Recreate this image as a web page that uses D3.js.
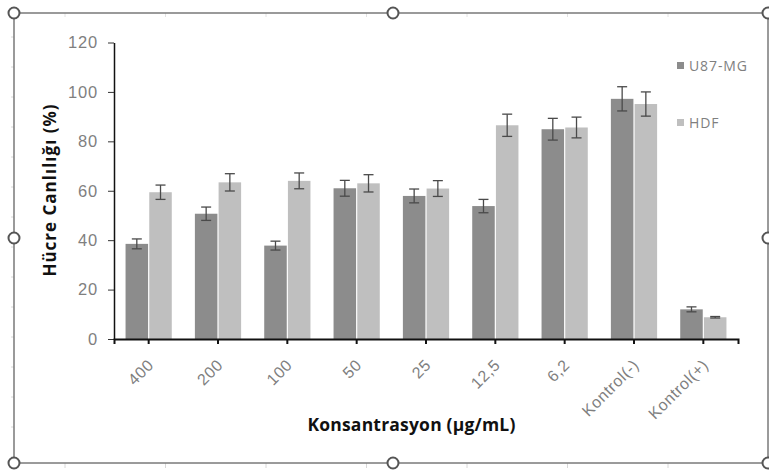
<!DOCTYPE html>
<html>
<head>
<meta charset="utf-8">
<script src="https://cdn.jsdelivr.net/npm/d3@7/dist/d3.min.js"></script>
<style>
  html, body { margin: 0; padding: 0; background: #fff; }
  svg { display: block; font-family: "Open Sans", Lato, sans-serif; }
</style>
</head>
<body>
<div id="chart"></div>
<script>
// data
const categories = ["400", "200", "100", "50", "25", "12,5", "6,2", "Kontrol(-)", "Kontrol(+)"];
const seriesNames = ["U87-MG", "HDF"];
const u87Values = [38.5, 50.7, 37.8, 61.0, 57.9, 53.8, 84.9, 97.2, 12.0];
const u87Errors = [2.0, 2.7, 1.8, 3.2, 2.8, 2.7, 4.4, 4.9, 1.0];
const hdfValues = [59.4, 63.4, 64.0, 63.0, 60.9, 86.5, 85.6, 95.1, 8.8];
const hdfErrors = [2.9, 3.5, 3.2, 3.5, 3.2, 4.5, 4.2, 4.9, 0.3];
const yTicks = [0, 20, 40, 60, 80, 100, 120];

const width = 769, height = 473;
const colors = { "U87-MG": "#8c8c8c", "HDF": "#bfbfbf" };

const svg = d3.select("#chart").append("svg")
  .attr("width", width)
  .attr("height", height);

// --- selected chart frame (Excel style handles) ---
const frame = { left: 14, top: 13, right: 768, bottom: 463 };
const frameG = svg.append("g");

// faint ruler ticks on the frame
const rulerX = d3.range(65, 700, 100.5);
const rulerY = d3.range(37, 460, 30);
frameG.selectAll(".rx-top").data(rulerX).join("line")
  .attr("x1", d => d).attr("x2", d => d)
  .attr("y1", frame.top).attr("y2", frame.top + 4)
  .attr("stroke", "#e2e2e2");
frameG.selectAll(".rx-bot").data(rulerX).join("line")
  .attr("x1", d => d).attr("x2", d => d)
  .attr("y1", frame.bottom).attr("y2", frame.bottom + 5)
  .attr("stroke", "#d8d8d8");
frameG.selectAll(".ry").data(rulerY).join("line")
  .attr("x1", frame.left - 3).attr("x2", frame.left)
  .attr("y1", d => d).attr("y2", d => d)
  .attr("stroke", "#d8d8d8");

frameG.append("rect")
  .attr("x", frame.left).attr("y", frame.top)
  .attr("width", frame.right - frame.left)
  .attr("height", frame.bottom - frame.top)
  .attr("fill", "none")
  .attr("stroke", "#7a7a7a")
  .attr("stroke-width", 1.5);

const midX = 393, midY = 238;
const handles = [
  [frame.left, frame.top], [midX, frame.top], [frame.right, frame.top],
  [frame.left, midY], [frame.right, midY],
  [frame.left, frame.bottom], [midX, frame.bottom], [frame.right, frame.bottom]
];
frameG.selectAll("circle").data(handles).join("circle")
  .attr("cx", d => d[0]).attr("cy", d => d[1])
  .attr("r", 5.5)
  .attr("fill", "#fff")
  .attr("stroke", "#555")
  .attr("stroke-width", 2);

// --- chart ---
const plot = { left: 114, right: 738, top: 42.5, bottom: 339 };

const x = d3.scaleBand()
  .domain(categories)
  .range([plot.left, plot.right])
  .paddingInner(1 / 3)
  .paddingOuter(1 / 6);

const xs = d3.scaleBand()
  .domain(seriesNames)
  .range([0, x.bandwidth()])
  .paddingInner(0.05);

const y = d3.scaleLinear()
  .domain([0, 120])
  .range([plot.bottom, plot.top]);

const rows = categories.map((c, i) => ({
  cat: c,
  bars: [
    { key: "U87-MG", value: u87Values[i], err: u87Errors[i] },
    { key: "HDF", value: hdfValues[i], err: hdfErrors[i] }
  ]
}));

const groups = svg.append("g").selectAll("g")
  .data(rows)
  .join("g")
  .attr("transform", d => `translate(${x(d.cat)},0)`);

groups.selectAll("rect")
  .data(d => d.bars)
  .join("rect")
  .attr("x", d => xs(d.key))
  .attr("y", d => y(d.value))
  .attr("width", xs.bandwidth())
  .attr("height", d => y(0) - y(d.value))
  .attr("fill", d => colors[d.key]);

// error bars
const capW = 5;
const eb = groups.selectAll("g.err")
  .data(d => d.bars)
  .join("g")
  .attr("class", "err")
  .attr("stroke", "#4a4a4a")
  .attr("stroke-width", 1.3);
eb.append("line")
  .attr("x1", d => xs(d.key) + xs.bandwidth() / 2)
  .attr("x2", d => xs(d.key) + xs.bandwidth() / 2)
  .attr("y1", d => y(d.value + d.err))
  .attr("y2", d => y(d.value - d.err));
eb.append("line")
  .attr("x1", d => xs(d.key) + xs.bandwidth() / 2 - capW)
  .attr("x2", d => xs(d.key) + xs.bandwidth() / 2 + capW)
  .attr("y1", d => y(d.value + d.err))
  .attr("y2", d => y(d.value + d.err));
eb.append("line")
  .attr("x1", d => xs(d.key) + xs.bandwidth() / 2 - capW)
  .attr("x2", d => xs(d.key) + xs.bandwidth() / 2 + capW)
  .attr("y1", d => y(d.value - d.err))
  .attr("y2", d => y(d.value - d.err));

// y axis
const yAxis = svg.append("g")
  .attr("transform", `translate(${plot.left},0)`)
  .call(d3.axisLeft(y).tickValues(yTicks).tickSize(6).tickSizeOuter(0).tickPadding(10));
yAxis.select(".domain").attr("stroke", "#111").attr("stroke-width", 1.5);
yAxis.selectAll(".tick line").attr("stroke", "#333");
yAxis.selectAll(".tick text")
  .attr("fill", "#7f7f7f")
  .style("font-size", "16.5px")
  .style("letter-spacing", "0.8px");

// x axis
const xAxis = svg.append("g")
  .attr("transform", `translate(0,${plot.bottom})`)
  .call(d3.axisBottom(x).tickSize(5).tickSizeOuter(5).tickPadding(0));
xAxis.select(".domain").attr("stroke", "#111").attr("stroke-width", 2);
xAxis.selectAll(".tick line").attr("stroke", "#111").attr("stroke-width", 2);
xAxis.selectAll(".tick text")
  .attr("fill", "#7f7f7f")
  .style("font-size", "16px")
  .style("letter-spacing", "0.6px")
  .attr("text-anchor", "end")
  .attr("dy", null)
  .attr("y", null)
  .attr("transform", "translate(6,27) rotate(-45)");

// axis titles
svg.append("text")
  .attr("transform", "translate(56,190) rotate(-90)")
  .attr("text-anchor", "middle")
  .style("font-size", "17px")
  .style("font-weight", "bold")
  .style("letter-spacing", "1px")
  .attr("fill", "#111")
  .text("Hücre Canlılığı (%)");

svg.append("text")
  .attr("x", 411.5)
  .attr("y", 431)
  .attr("text-anchor", "middle")
  .style("font-size", "17.5px")
  .style("font-weight", "bold")
  .style("letter-spacing", "0.2px")
  .attr("fill", "#111")
  .text("Konsantrasyon (µg/mL)");

// legend
const legendY = [66, 123];
const legend = svg.append("g").selectAll("g")
  .data(seriesNames)
  .join("g")
  .attr("transform", (d, i) => `translate(677,${legendY[i]})`);
legend.append("rect")
  .attr("x", 0).attr("y", -4)
  .attr("width", 7).attr("height", 7)
  .attr("fill", d => colors[d]);
legend.append("text")
  .attr("x", 12)
  .attr("y", 5)
  .attr("fill", "#7f7f7f")
  .style("font-size", "14px")
  .style("letter-spacing", "0.9px")
  .text(d => d);
</script>
</body>
</html>
